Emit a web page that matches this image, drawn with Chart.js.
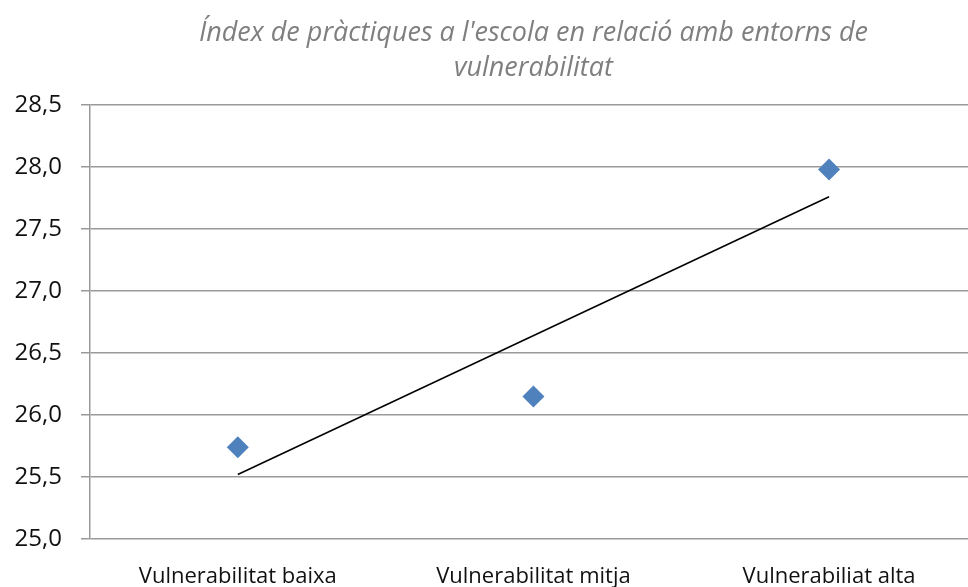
<!DOCTYPE html>
<html>
<head>
<meta charset="utf-8">
<script src="https://cdn.jsdelivr.net/npm/chart.js@4"></script>
<style>
  html, body { margin: 0; padding: 0; background: #fff; }
  #wrap { width: 968px; height: 587px; }
</style>
</head>
<body>
<div id="wrap"><canvas id="chart"></canvas></div>
<script>
// data
const categories = ['Vulnerabilitat baixa', 'Vulnerabilitat mitja', 'Vulnerabiliat alta'];
const categoryPos = [1, 2, 3];
const indexValues = [25.74, 26.15, 27.98];
const trendPos = [1, 3];
const trendValues = [25.52, 27.76];
const yTicks = [25.0, 25.5, 26.0, 26.5, 27.0, 27.5, 28.0, 28.5];
const titleLines = ["Índex de pràctiques a l'escola en relació amb entorns de", 'vulnerabilitat'];

const FONT = '"Open Sans", "DejaVu Sans", sans-serif';
const GRID = '#9a9a9a';

// title drawn over the plot area centre (like the Excel original)
const plotTitle = {
    id: 'plotTitle',
    afterDraw(chart) {
        const ctx = chart.ctx;
        const cx = chart.scales.x.getPixelForValue(2);
        ctx.save();
        ctx.font = 'italic 27px ' + FONT;
        ctx.fillStyle = '#7f7f7f';
        ctx.textAlign = 'center';
        ctx.textBaseline = 'middle';
        titleLines.forEach((line, i) => ctx.fillText(line, cx, 33 + i * 35));
        ctx.restore();
    }
};

new Chart(document.getElementById('chart'), {
    type: 'scatter',
    data: {
        datasets: [{
            label: 'Índex',
            data: categoryPos.map((x, i) => ({ x: x, y: indexValues[i] })),
            pointStyle: 'rectRot',
            pointRadius: 11,
            pointHoverRadius: 11,
            backgroundColor: '#4f81bd',
            borderColor: '#4f81bd',
            borderWidth: 0,
            order: 1
        }, {
            label: 'Tendència',
            type: 'line',
            data: trendPos.map((x, i) => ({ x: x, y: trendValues[i] })),
            borderColor: '#000',
            borderWidth: 1.5,
            pointRadius: 0,
            fill: false,
            order: 2
        }]
    },
    options: {
        responsive: true,
        maintainAspectRatio: false,
        animation: false,
        layout: { autoPadding: false, padding: { top: 105, right: 0, left: 0, bottom: 0 } },
        plugins: {
            legend: { display: false },
            title: { display: false },
            tooltip: { enabled: false }
        },
        scales: {
            x: {
                type: 'linear',
                min: 0.5,
                max: 3.47,
                afterBuildTicks: s => { s.ticks = categoryPos.map(v => ({ value: v })); },
                afterFit: s => { s.height = 48; },
                grid: { display: false, drawTicks: false },
                border: { display: false },
                ticks: {
                    callback: v => categories[categoryPos.indexOf(v)] || '',
                    color: '#111',
                    font: { family: FONT, size: 22 },
                    padding: 25,
                    maxRotation: 0,
                    autoSkip: false
                }
            },
            y: {
                min: 25,
                max: 28.5,
                afterBuildTicks: s => { s.ticks = yTicks.map(v => ({ value: v })); },
                afterFit: s => { s.width = 90; },
                grid: { color: GRID, lineWidth: 1.5, drawTicks: true, tickLength: 9, tickColor: GRID },
                border: { display: true, color: GRID, width: 1.5 },
                ticks: {
                    callback: v => v.toFixed(1).replace('.', ','),
                    color: '#111',
                    font: { family: FONT, size: 24 },
                    padding: 19
                }
            }
        }
    },
    plugins: [plotTitle]
});
</script>
</body>
</html>
